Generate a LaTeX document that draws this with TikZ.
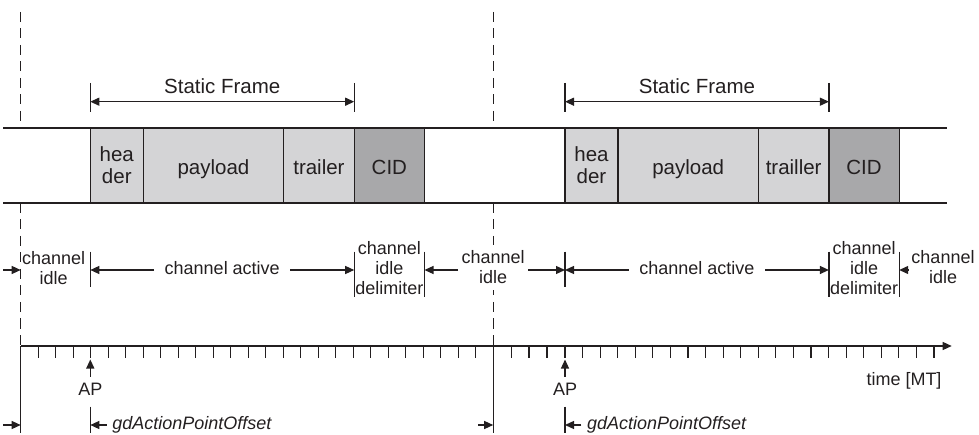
\documentclass[tikz,border=0pt]{standalone}
\usepackage{fontspec}
\setmainfont{Liberation Sans}
\usetikzlibrary{arrows.meta,calc}
\definecolor{ink}{HTML}{231F20}
\definecolor{lightbox}{HTML}{D4D4D6}
\definecolor{darkbox}{HTML}{A8A8AA}
\begin{document}
\begin{tikzpicture}[x=1pt,y=-1pt,line width=1.25pt,color=ink,
  big/.style={font=\fontsize{20.5}{21.7}\selectfont},
  small/.style={font=\fontsize{18}{20.3}\selectfont},
  seg/.style={draw=ink,line width=1.25pt,inner sep=0pt,outer sep=0pt,minimum height=75pt,anchor=west,big},
  one/.style={text height=18pt,text depth=0pt},
  arr/.style={-{Triangle[length=9pt,width=8pt]}},
  dimarr/.style={{Triangle[length=9pt,width=8pt]}-{Triangle[length=9pt,width=8pt]}},
  dashline/.style={dash pattern=on 10pt off 6.5pt},
  lbl/.style={small,anchor=base,align=center,inner sep=3pt}]
\useasboundingbox (0,0) rectangle (979,435);

% section boundaries (dashed above, solid below the time axis)
\foreach \k/\x in {1/20.7,2/493.2}{
  \coordinate (dtop\k) at (\x,12);
  \coordinate (dbt\k) at (\x,128);
  \coordinate (dbb\k) at (\x,203);
  \coordinate (dax\k) at (\x,346);
  \coordinate (dbot\k) at (\x,433);
  \draw[dashline] (dtop\k) -- (dbt\k);
  \draw[dashline] (dbb\k) -- (dax\k);
  \draw (dax\k) -- (dbot\k);
}

% band lines
\coordinate (bandtl) at (3,128);
\coordinate (bandtr) at (946.7,128);
\coordinate (bandbl) at (3,203);
\coordinate (bandbr) at (946.7,203);
\draw (bandtl) -- (bandtr);
\draw (bandbl) -- (bandbr);

\foreach \i/\o/\tr in {1/0/trailer,2/474.7/trailler}{
  % frame boxes
  \node[seg,fill=lightbox,minimum width=53pt,align=center] (h\i) at (90.3+\o,165.5) {hea\\der};
  \node[seg,one,fill=lightbox,minimum width=140.4pt] (p\i) at (h\i.east) {payload};
  \node[seg,one,fill=lightbox,minimum width=70.5pt] (t\i) at (p\i.east) {\tr};
  \node[seg,one,fill=darkbox,minimum width=70.3pt] (c\i) at (t\i.east) {CID};

  % Static Frame dimension
  \coordinate (sa\i) at (90.3+\o,101.7);
  \coordinate (sb\i) at (354.2+\o,101.7);
  \draw ([yshift=18.7pt]sa\i) -- ([yshift=-10.3pt]sa\i);
  \draw ([yshift=18.7pt]sb\i) -- ([yshift=-10.3pt]sb\i);
  \draw[dimarr] (sa\i) -- (sb\i);
  \node[big,anchor=base] (sf\i) at ($(sa\i)!0.5!(sb\i)+(0,-8.4)$) {Static Frame};

  % channel state row
  \coordinate (ra\i) at (90.3+\o,270);
  \coordinate (rb\i) at (354.2+\o,270);
  \coordinate (rc\i) at (424.5+\o,270);
  \draw ([yshift=18.3pt]ra\i) -- ([yshift=-16.7pt]ra\i);
  \draw ([yshift=18.3pt]rb\i) -- ([yshift=-26.7pt]rb\i);
  \draw ([yshift=18.3pt]rc\i) -- ([yshift=-26.7pt]rc\i);
  \node[small,anchor=base,inner xsep=10pt] (ca\i) at ($(ra\i)!0.5!(rb\i)+(0,5)$) {channel active};
  \draw[arr] (ca\i.west |- ra\i) -- (ra\i);
  \draw[arr] (ca\i.east |- rb\i) -- (rb\i);
  \node[lbl] (cd\i) at ($(rb\i)!0.5!(rc\i)+(0,25)$) {channel\\idle\\delimiter};

  % action point
  \coordinate (ap\i) at (90.3+\o,359.5);
  \coordinate (apb\i) at (90.3+\o,376.7);
  \draw[arr] (apb\i) -- (ap\i);
  \node[small,anchor=base] (apt\i) at (90.3+\o,395.7) {AP};

  % gdActionPointOffset
  \coordinate (g\i) at (90.3+\o,425);
  \draw ([yshift=18.3pt]g\i) -- ([yshift=-8pt]g\i);
  \node[small,anchor=base west,inner xsep=5pt,inner ysep=0pt,font=\fontsize{18}{20.3}\selectfont\itshape] (gd\i) at (106.7+\o,429.6) {gdActionPointOffset};
  \draw[arr] (gd\i.west |- g\i) -- (g\i);
}

% channel idle labels
\node[lbl] (ci1) at (53.7,284.5) {channel\\idle};
\node[lbl,fill=white,inner ysep=6pt] (ci2) at (493.2,284) {channel\\idle};
\node[lbl] (ci3) at (943,284) {channel\\idle};
\coordinate (la) at (3,270);
\coordinate (ld) at (20.7,270);
\draw[arr] (la) -- (ld);
\draw[arr] (ci2.west |- rc1) -- (rc1);
\draw[arr] (ci2.east |- ra2) -- (ra2);
\draw[arr] (ci3.west |- rc2) -- (rc2);

% bottom offset arrows into section boundaries
\coordinate (ba) at (3,425);
\coordinate (bb) at (20.7,425);
\coordinate (bc) at (478,425);
\coordinate (bd) at (493.2,425);
\draw[arr] (ba) -- (bb);
\draw[arr] (bc) -- (bd);

% time axis
\coordinate (tend) at (951.7,346);
\draw[arr] (dax1) -- (tend);
\foreach \k in {1,...,27} \draw (20.7+\k*17.5,346) -- ++(0,11.7);
\foreach \k in {1,2,3} \draw (493.2+\k*17.95,346) -- ++(0,11.7);
\foreach \k in {0,...,21} \draw (565+\k*17.57,346) -- ++(0,11.7);
\node[small,anchor=base] (tm) at (904,385.7) {time [MT]};
\end{tikzpicture}
\end{document}
